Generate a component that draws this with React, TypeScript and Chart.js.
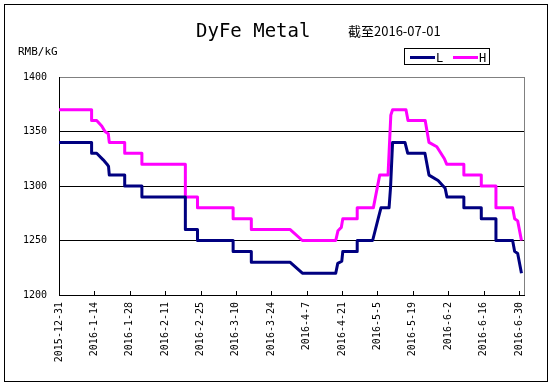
import React, { useEffect, useRef } from "react";
import { Chart, registerables } from "chart.js";

Chart.register(...registerables);

// ---- text ----
const titleText = "DyFe Metal";
const subtitleText = "截至2016-07-01";
const unitText = "RMB/kG";

// ---- series (x = days after 2015-12-31) ----
const seriesNames = ["L", "H"];
const seriesColors = ["#000080", "#FF00FF"];

const lowDays = [0, 12.9, 12.9, 14.9, 17.5, 19.0, 19.6, 19.9, 26.0, 26.0, 32.8, 32.8, 50.0, 50.0, 54.8, 54.8, 68.9, 68.9, 76.1, 76.1, 91.5, 96.3, 109.5, 110.3, 111.9, 112.3, 118.0, 118.0, 124.1, 126.4, 127.4, 130.6, 131.2, 132.0, 136.9, 138.0, 144.8, 146.4, 150.0, 152.8, 153.5, 160.2, 160.2, 167.1, 167.1, 172.9, 172.9, 179.5, 180.3, 181.5, 183.0];
const lowValues = [1340, 1340, 1330, 1330, 1324, 1320, 1318, 1310, 1310, 1300, 1300, 1290, 1290, 1260, 1260, 1250, 1250, 1240, 1240, 1230, 1230, 1220, 1220, 1229, 1231, 1240, 1240, 1250, 1250, 1271, 1280, 1280, 1299, 1340, 1340, 1330, 1330, 1310, 1305, 1298, 1290, 1290, 1280, 1280, 1270, 1270, 1250, 1250, 1240, 1238, 1220];

const highDays = [0, 12.9, 12.9, 14.9, 16.9, 18.2, 19.5, 19.9, 26.0, 26.0, 32.8, 32.8, 50.0, 50.0, 54.8, 54.8, 68.9, 68.9, 76.1, 76.1, 91.5, 96.3, 109.5, 110.4, 111.7, 112.3, 118.0, 118.0, 124.4, 126.9, 130.2, 131.3, 132.0, 137.3, 138.1, 144.9, 146.4, 149.5, 152.5, 153.4, 160.2, 160.2, 167.1, 167.1, 172.9, 172.9, 179.5, 180.3, 181.5, 183.0];
const highValues = [1370, 1370, 1360, 1360, 1355, 1350, 1348, 1340, 1340, 1330, 1330, 1320, 1320, 1290, 1290, 1280, 1280, 1270, 1270, 1260, 1260, 1250, 1250, 1259, 1262, 1270, 1270, 1280, 1280, 1310, 1310, 1365, 1370, 1370, 1360, 1360, 1340, 1336, 1325, 1320, 1320, 1310, 1310, 1300, 1300, 1280, 1280, 1270, 1268, 1250];

// ---- axes ----
const tickDays = [0, 14, 28, 42, 56, 70, 84, 98, 112, 126, 140, 154, 168, 182];
const tickLabels = ["2015-12-31", "2016-1-14", "2016-1-28", "2016-2-11", "2016-2-25", "2016-3-10", "2016-3-24", "2016-4-7", "2016-4-21", "2016-5-5", "2016-5-19", "2016-6-2", "2016-6-16", "2016-6-30"];
const xMin = 0;
const xMax = 184;
const yTicks = [1200, 1250, 1300, 1350, 1400];

const MONO = "'DejaVu Sans Mono', 'Liberation Mono', monospace";

const decorPlugin = {
  id: "decor",
  afterDraw(chart: any) {
    const ctx = chart.ctx;
    const area = chart.chartArea;
    const xs = chart.scales.x;
    ctx.save();
    // right plot border (gray)
    ctx.strokeStyle = "#808080";
    ctx.lineWidth = 1;
    ctx.beginPath();
    ctx.moveTo(Math.round(area.right) + 0.5, area.top);
    ctx.lineTo(Math.round(area.right) + 0.5, area.bottom);
    ctx.stroke();
    // inner tick marks on x axis
    ctx.strokeStyle = "#000";
    ctx.beginPath();
    for (const v of tickDays) {
      const px = Math.round(xs.getPixelForValue(v)) + 0.5;
      ctx.moveTo(px, area.bottom);
      ctx.lineTo(px, area.bottom - 4);
    }
    ctx.stroke();
    // outer frame
    ctx.strokeRect(4.5, 4.5, 543, 377);
    // title & subtitle & unit
    ctx.fillStyle = "#000";
    ctx.textBaseline = "alphabetic";
    ctx.textAlign = "left";
    ctx.font = `19px ${MONO}`;
    ctx.fillText(titleText, 196, 37);
    ctx.font = "13px 'Noto Sans CJK SC'";
    ctx.fillText(subtitleText, 348, 36);
    ctx.font = `11px ${MONO}`;
    ctx.fillText(unitText, 18, 55);
    // legend
    ctx.strokeStyle = "#000";
    ctx.strokeRect(404.5, 48.5, 85, 16);
    ctx.font = `12px ${MONO}`;
    chart.data.datasets.forEach((ds: any, i: number) => {
      const x0 = 410 + i * 43;
      ctx.strokeStyle = ds.borderColor;
      ctx.lineWidth = 3;
      ctx.beginPath();
      ctx.moveTo(x0, 57.5);
      ctx.lineTo(x0 + 25, 57.5);
      ctx.stroke();
      ctx.fillStyle = "#000";
      ctx.fillText(ds.label, x0 + 26, 62);
    });
    ctx.restore();
  },
};

export default function App() {
  const ref = useRef<HTMLCanvasElement | null>(null);
  useEffect(() => {
    if (!ref.current) return;
    const chart = new Chart(ref.current, {
      type: "line",
      data: {
        datasets: [
          {
            label: seriesNames[0],
            data: lowDays.map((d, i) => ({ x: d, y: lowValues[i] })),
            borderColor: seriesColors[0],
            backgroundColor: seriesColors[0],
            borderWidth: 3,
            pointRadius: 0,
            tension: 0,
            fill: false,
            borderJoinStyle: "round",
          },
          {
            label: seriesNames[1],
            data: highDays.map((d, i) => ({ x: d, y: highValues[i] })),
            borderColor: seriesColors[1],
            backgroundColor: seriesColors[1],
            borderWidth: 3,
            pointRadius: 0,
            tension: 0,
            fill: false,
            borderJoinStyle: "round",
          },
        ],
      },
      options: {
        animation: false,
        responsive: false,
        maintainAspectRatio: false,
        layout: { padding: { left: 0, right: 30, top: 77, bottom: 0 } },
        plugins: { legend: { display: false }, tooltip: { enabled: false }, title: { display: false } },
        scales: {
          x: {
            type: "linear",
            min: xMin,
            max: xMax,
            afterBuildTicks: (s: any) => {
              s.ticks = tickDays.map((v) => ({ value: v }));
            },
            afterFit: (s: any) => {
              s.height = 93;
            },
            ticks: {
              autoSkip: false,
              minRotation: 90,
              maxRotation: 90,
              padding: 7,
              color: "#000",
              font: { family: MONO, size: 10 },
              callback: (v: any) => {
                const i = tickDays.indexOf(Number(v));
                return i >= 0 ? tickLabels[i] : "";
              },
            },
            grid: { display: true, drawOnChartArea: false, drawTicks: false },
            border: { display: true, color: "#000", width: 1 },
          },
          y: {
            min: 1200,
            max: 1400,
            afterBuildTicks: (s: any) => {
              s.ticks = yTicks.map((v) => ({ value: v }));
            },
            afterFit: (s: any) => {
              s.width = 59;
            },
            ticks: {
              padding: 12,
              color: "#000",
              font: { family: MONO, size: 10 },
              callback: (v: any) => String(v),
            },
            grid: {
              color: (c: any) => (c.tick && c.tick.value === 1400 ? "#808080" : "#000"),
              lineWidth: 1,
              drawTicks: false,
            },
            border: { display: true, color: "#000", width: 1 },
          },
        },
      },
      plugins: [decorPlugin],
    });
    return () => chart.destroy();
  }, []);

  return (
    <div style={{ position: "absolute", left: 0, top: 0, width: 554, height: 388, background: "#fff" }}>
      <canvas ref={ref} width={554} height={388} style={{ width: 554, height: 388, display: "block" }} />
    </div>
  );
}
